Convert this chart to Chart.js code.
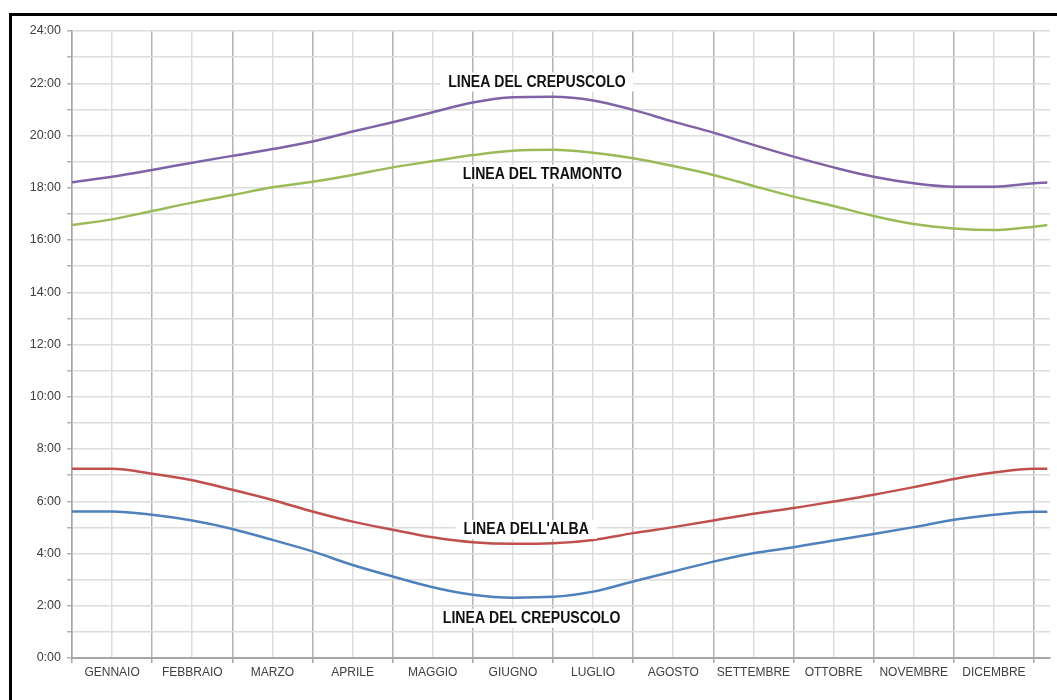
<!DOCTYPE html>
<html lang="it">
<head>
<meta charset="utf-8">
<title>Alba, tramonto e crepuscolo</title>
<script src="https://cdn.jsdelivr.net/npm/chart.js@4.4.1/dist/chart.umd.min.js"></script>
<style>
    html, body {
        margin: 0;
        padding: 0;
        background: #fff;
        overflow: hidden;
    }
    .wrap {
        position: relative;
        width: 1057px;
        height: 700px;
    }
    .frame {
        position: absolute;
        left: 9px;
        top: 13px;
        width: 1100px;
        height: 800px;
        border: 3px solid #000;
        box-sizing: border-box;
        pointer-events: none;
    }
    canvas {
        position: absolute;
        left: 0;
        top: 0;
    }
</style>
</head>
<body>
<div class="wrap">
    <canvas id="sunChart" width="1057" height="700"></canvas>
    <div class="frame"></div>
</div>

<script>
// giorno dell'anno (ogni 15 giorni) e orari in ore decimali
const days = [0, 15, 30, 45, 60, 75, 90, 105, 120, 135, 150, 165, 180,
              195, 210, 225, 240, 255, 270, 285, 300, 315, 330, 345, 360, 365];

const crepuscoloSera = [18.21, 18.42, 18.68, 18.96, 19.22, 19.48, 19.77, 20.15, 20.51, 20.89, 21.26, 21.46, 21.48,
                        21.34, 20.98, 20.53, 20.11, 19.64, 19.19, 18.78, 18.42, 18.17, 18.04, 18.04, 18.17, 18.20];
const tramonto = [16.57, 16.79, 17.11, 17.43, 17.72, 18.02, 18.23, 18.49, 18.78, 19.02, 19.25, 19.42, 19.45,
                  19.34, 19.13, 18.83, 18.49, 18.07, 17.66, 17.30, 16.92, 16.61, 16.44, 16.38, 16.51, 16.57];
const alba = [7.24, 7.24, 7.05, 6.80, 6.44, 6.05, 5.61, 5.22, 4.91, 4.62, 4.43, 4.37, 4.39,
              4.52, 4.78, 5.01, 5.26, 5.52, 5.74, 5.99, 6.25, 6.54, 6.85, 7.10, 7.24, 7.24];
const crepuscoloMattina = [5.61, 5.61, 5.48, 5.26, 4.94, 4.52, 4.08, 3.56, 3.12, 2.71, 2.42, 2.31, 2.34,
                           2.54, 2.93, 3.31, 3.69, 4.01, 4.24, 4.50, 4.75, 5.01, 5.29, 5.48, 5.60, 5.60];

const months = ['GENNAIO', 'FEBBRAIO', 'MARZO', 'APRILE', 'MAGGIO', 'GIUGNO',
                'LUGLIO', 'AGOSTO', 'SETTEMBRE', 'OTTOBRE', 'NOVEMBRE', 'DICEMBRE'];

// etichette delle linee: testo, giorno, ora
const lineLabels = [
    { text: 'LINEA DEL CREPUSCOLO', day: 174, hour: 22.03 },
    { text: 'LINEA DEL TRAMONTO', day: 176, hour: 18.5 },
    { text: "LINEA DELL'ALBA", day: 170, hour: 4.9 },
    { text: 'LINEA DEL CREPUSCOLO', day: 172, hour: 1.5 }
];

const toPoints = values => values.map((v, i) => ({ x: days[i], y: v }));

const lineStyle = color => ({
    borderColor: color,
    backgroundColor: color,
    borderWidth: 2.5,
    pointRadius: 0,
    cubicInterpolationMode: 'monotone',
    fill: false
});

// scritte sopra le linee, con sfondo bianco (testo un po' stretto)
const lineLabelPlugin = {
    id: 'lineLabels',
    afterDatasetsDraw(chart) {
        const { ctx, scales } = chart;
        const squeeze = 0.88;
        ctx.save();
        ctx.font = "bold 16px 'Liberation Sans', Arial, sans-serif";
        ctx.textAlign = 'center';
        ctx.textBaseline = 'middle';
        lineLabels.forEach(label => {
            const x = scales.x.getPixelForValue(label.day);
            const y = scales.y.getPixelForValue(label.hour);
            const w = ctx.measureText(label.text).width * squeeze;
            ctx.fillStyle = '#fff';
            ctx.fillRect(x - w / 2 - 8, y - 10, w + 16, 19);
            ctx.save();
            ctx.translate(x, y);
            ctx.scale(squeeze, 1);
            ctx.fillStyle = '#111';
            ctx.fillText(label.text, 0, 0);
            ctx.restore();
        });
        ctx.restore();
    }
};

document.addEventListener('DOMContentLoaded', () => {
    const ctx = document.getElementById('sunChart').getContext('2d');

    new Chart(ctx, {
        type: 'line',
        data: {
            datasets: [
                { label: 'Crepuscolo sera', data: toPoints(crepuscoloSera), ...lineStyle('#7f63a6') },
                { label: 'Tramonto', data: toPoints(tramonto), ...lineStyle('#9bbb59') },
                { label: 'Alba', data: toPoints(alba), ...lineStyle('#c0504d') },
                { label: 'Crepuscolo mattina', data: toPoints(crepuscoloMattina), ...lineStyle('#4f81bd') }
            ]
        },
        options: {
            responsive: false,
            animation: false,
            layout: {
                padding: { left: 0, top: 31, right: 7, bottom: 0 }
            },
            plugins: {
                legend: { display: false },
                tooltip: { enabled: false }
            },
            scales: {
                x: {
                    type: 'linear',
                    min: 0,
                    max: 366,
                    afterBuildTicks: scale => {
                        const ticks = [];
                        for (let d = 0; d <= 360; d += 15) ticks.push({ value: d });
                        scale.ticks = ticks;
                    },
                    afterFit: scale => { scale.height = 42; },
                    grid: {
                        color: c => (c.tick && c.tick.value % 30 === 0) ? '#b3b3b3' : '#dcdcdc',
                        tickColor: c => (c.tick && c.tick.value % 30 === 0) ? '#a6a6a6' : 'rgba(0,0,0,0)',
                        lineWidth: 1.5,
                        tickLength: 5
                    },
                    border: { color: '#a6a6a6', width: 2 },
                    ticks: {
                        autoSkip: false,
                        maxRotation: 0,
                        padding: 2,
                        color: '#404040',
                        font: { family: "'Liberation Sans', Arial, sans-serif", size: 12 },
                        callback: v => (v - 15) % 30 === 0 ? months[(v - 15) / 30] : ''
                    }
                },
                y: {
                    min: 0,
                    max: 24,
                    afterFit: scale => { scale.width = 72; },
                    grid: {
                        color: '#dcdcdc',
                        tickColor: '#b3b3b3',
                        lineWidth: 1.5,
                        tickLength: 5
                    },
                    border: { color: '#a6a6a6', width: 1.5 },
                    ticks: {
                        stepSize: 1,
                        autoSkip: false,
                        padding: 6,
                        color: '#404040',
                        font: { family: "'Liberation Sans', Arial, sans-serif", size: 12.5 },
                        callback: v => v % 2 === 0 ? v + ':00' : ''
                    }
                }
            }
        },
        plugins: [lineLabelPlugin]
    });
});
</script>
</body>
</html>
